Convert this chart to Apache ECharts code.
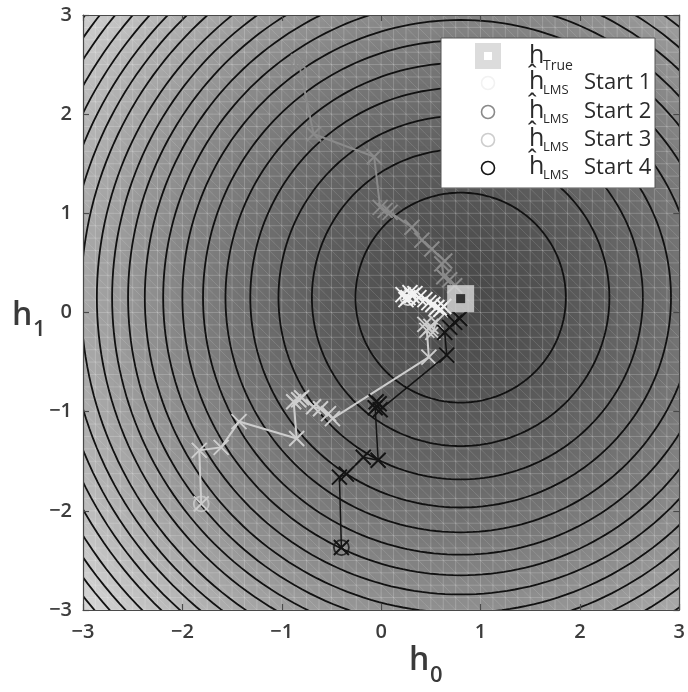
<!DOCTYPE html>
<html><head><meta charset="utf-8">
<script src="https://cdn.jsdelivr.net/npm/echarts@6/dist/echarts.min.js"></script>
<style>html,body{margin:0;padding:0;background:#fff}#c{width:688px;height:692px}</style>
</head><body><div id="c"></div>
<script>
// ---------- data ----------
const xTickLabels = ['\u22123', '\u22122', '\u22121', '0', '1', '2', '3'];
const yTickLabels = ['\u22123', '\u22122', '\u22121', '0', '1', '2', '3'];
const hTrue = [0.80, 0.14];
const surfaceCenter = [0.80, 0.15];
// squared radii of the drawn MSE contours
const contourR2 = [1.12, 2.24, 3.36, 4.48, 5.6, 6.72, 7.84, 8.96, 10.1, 11.2, 12.3, 13.4, 14.6, 15.7, 16.8, 17.9, 19.0, 20.2, 21.3, 22.4, 23.5, 24.6];
const start1 = [[0.27,0.15],[0.22,0.18],[0.31,0.17],[0.25,0.13],[0.34,0.19],[0.29,0.20],[0.38,0.15],[0.44,0.13],[0.48,0.10],[0.52,0.08],[0.56,0.05],[0.60,0.03],[0.63,0.06]];
const start2 = [[-0.83,2.53],[-0.68,1.80],[-0.07,1.57],[-0.01,1.06],[0.04,1.03],[0.09,1.01],[0.31,0.86],[0.41,0.73],[0.51,0.64],[0.64,0.52],[0.61,0.49],[0.63,0.36],[0.69,0.33],[0.74,0.27]];
const start3 = [[-1.81,-1.93],[-1.83,-1.39],[-1.61,-1.36],[-1.43,-1.10],[-0.85,-1.27],[-0.88,-0.90],[-0.83,-0.88],[-0.80,-0.86],[-0.68,-0.95],[-0.61,-0.97],[-0.53,-1.02],[-0.49,-1.07],[0.48,-0.45],[0.46,-0.18],[0.50,-0.14],[0.44,-0.12],[0.52,-0.20],[0.55,-0.10]];
const start4 = [[-0.40,-2.37],[-0.42,-1.66],[-0.35,-1.63],[-0.18,-1.46],[-0.03,-1.49],[-0.06,-0.96],[-0.02,-0.92],[-0.05,-0.90],[-0.01,-0.98],[0.66,-0.43],[0.64,-0.20],[0.69,-0.15],[0.74,-0.10],[0.79,-0.06]];
const seriesNames = ['Start 1', 'Start 2', 'Start 3', 'Start 4'];
const seriesColors = ['#f2f2f2', '#8a8a8a', '#cdcdcd', '#141414'];

// ---------- styling / rendering helpers ----------
const AX = [-3, 3];
const shadeStep = 0.0625, meshStep = 0.125;
const shadeLow = 74, shadeHigh = 216, r2Max = 24.4;
function shade(x, y) {
  const dx = x - surfaceCenter[0], dy = y - surfaceCenter[1];
  const r2 = dx * dx + dy * dy;
  let g = shadeLow + (shadeHigh - shadeLow) * Math.pow(Math.min(r2 / r2Max, 1.05), 0.78);
  g = Math.round(Math.min(225, g));
  return 'rgb(' + g + ',' + g + ',' + g + ')';
}
const cells = [];
const nShade = Math.round((AX[1] - AX[0]) / shadeStep);
for (let i = 0; i < nShade; i++) for (let j = 0; j < nShade; j++) cells.push([AX[0] + i * shadeStep, AX[0] + j * shadeStep]);
const meshLines = [];
const nMesh = Math.round((AX[1] - AX[0]) / meshStep);
for (let k = 0; k <= nMesh; k++) {
  const v = AX[0] + k * meshStep;
  meshLines.push([v, AX[0], v, AX[1], 0]);
  meshLines.push([AX[0], v, AX[1], v, 0]);
}
for (let k = 1; k < 2 * nMesh; k++) {
  const c = 2 * AX[0] + k * meshStep;
  const xa = Math.max(AX[0], c - AX[1]), xb = Math.min(AX[1], c - AX[0]);
  meshLines.push([xa, c - xa, xb, c - xb, 1]);
}
const FONT = 'Open Sans';
const xPath = 'path://M0,0L10,10M10,0L0,10';

const axisCommon = {
  type: 'value', min: -3, max: 3, interval: 1, z: 10,
  axisLine: { show: true, onZero: false, lineStyle: { color: '#4a4a4a', width: 1.2 } },
  axisTick: { show: true, inside: true, length: 6, lineStyle: { color: '#4a4a4a', width: 1.2 } },
  splitLine: { show: false }
};
function tickFmt(labels) { return v => labels[Math.round(v + 3)]; }

const series = [
  {
    type: 'custom', silent: true, z: 1, animation: false, progressive: 0,
    data: cells,
    encode: { x: 0, y: 1 },
    renderItem: (params, api) => {
      const x0 = api.value(0), y0 = api.value(1);
      const p = api.coord([x0, y0 + shadeStep]);
      const s = api.size([shadeStep, shadeStep]);
      return { type: 'rect', shape: { x: p[0], y: p[1], width: s[0] + 0.8, height: s[1] + 0.8 },
        style: { fill: shade(x0 + shadeStep / 2, y0 + shadeStep / 2) } };
    }
  },
  {
    type: 'custom', silent: true, z: 2, animation: false, progressive: 0,
    data: meshLines,
    encode: { x: 0, y: 1 },
    renderItem: (params, api) => {
      const a = api.coord([api.value(0), api.value(1)]);
      const b = api.coord([api.value(2), api.value(3)]);
      const diag = api.value(4) === 1;
      return { type: 'line', shape: { x1: a[0], y1: a[1], x2: b[0], y2: b[1] },
        style: { stroke: diag ? 'rgba(255,255,255,0.13)' : 'rgba(255,255,255,0.2)', lineWidth: 1 } };
    }
  },
  {
    type: 'custom', silent: true, z: 3, animation: false, clip: true,
    data: contourR2.map(v => [v]),
    renderItem: (params, api) => {
      const r = Math.sqrt(api.value(0));
      const pts = [];
      for (let a = 0; a <= 360; a += 1.5) {
        const t = a * Math.PI / 180;
        pts.push(api.coord([surfaceCenter[0] + r * Math.cos(t), surfaceCenter[1] + r * Math.sin(t)]));
      }
      return { type: 'polyline', shape: { points: pts }, style: { stroke: '#111', lineWidth: 1.8, fill: null } };
    }
  }
];
const trajectories = [start1, start2, start3, start4];
trajectories.forEach((d, i) => {
  series.push({
    name: seriesNames[i], type: 'line', z: 5 + i, animation: false,
    data: d, symbol: xPath, symbolSize: 15, showAllSymbol: true,
    lineStyle: { color: seriesColors[i], width: i === 3 ? 1.5 : 2 },
    itemStyle: { color: seriesColors[i], borderColor: seriesColors[i], borderWidth: 2 }
  });
  series.push({
    name: seriesNames[i] + ' start', type: 'scatter', z: 5 + i, animation: false,
    data: [d[0]], symbol: 'circle', symbolSize: 15,
    itemStyle: { color: 'rgba(0,0,0,0)', borderColor: seriesColors[i], borderWidth: 1.8 }
  });
});
series.push({ type: 'scatter', z: 20, animation: false, data: [hTrue], symbol: 'rect', symbolSize: 27, itemStyle: { color: '#d9d9d9' } });
series.push({ type: 'scatter', z: 21, animation: false, data: [hTrue], symbol: 'rect', symbolSize: 9, itemStyle: { color: '#111' } });

// legend drawn with graphic elements
const LX = 441, LY = 38, LW = 214, LH = 150;
const legendRows = [83, 112, 140, 168];
const graphic = [
  { type: 'rect', z: 100, shape: { x: LX, y: LY, width: LW, height: LH }, style: { fill: '#fff', stroke: '#555', lineWidth: 1 } },
  { type: 'rect', z: 101, shape: { x: 475, y: 43, width: 26, height: 26 }, style: { fill: '#dcdcdc' } },
  { type: 'rect', z: 102, shape: { x: 484, y: 52, width: 8, height: 8 }, style: { fill: '#fff' } },
  { type: 'text', z: 101, style: { x: 529, y: 56, text: 'h', font: '25px "' + FONT + '"', fill: '#2a2a2a', verticalAlign: 'middle' } },
  { type: 'text', z: 101, style: { x: 543, y: 66, text: 'True', font: '14px "' + FONT + '"', fill: '#2a2a2a', verticalAlign: 'middle' } }
];
legendRows.forEach((yy, i) => {
  graphic.push({ type: 'circle', z: 101, shape: { cx: 488, cy: yy, r: 6.5 }, style: { fill: 'none', stroke: seriesColors[i], lineWidth: 1.6 } });
  graphic.push({ type: 'text', z: 101, style: { x: 529, y: yy - 1, text: '\u0125', font: '25px "' + FONT + '"', fill: '#2a2a2a', verticalAlign: 'middle' } });
  graphic.push({ type: 'text', z: 101, style: { x: 543, y: yy + 7, text: 'LMS', font: '13px "' + FONT + '"', fill: '#2a2a2a', verticalAlign: 'middle' } });
  graphic.push({ type: 'text', z: 101, style: { x: 584, y: yy, text: seriesNames[i], font: '22px "' + FONT + '"', fill: '#2a2a2a', verticalAlign: 'middle' } });
});
// axis titles
graphic.push({ type: 'text', z: 101, style: { x: 409, y: 661, text: 'h', font: '600 32px "' + FONT + '"', fill: '#3a3a3a', verticalAlign: 'middle' } });
graphic.push({ type: 'text', z: 101, style: { x: 430, y: 676, text: '0', font: '600 22px "' + FONT + '"', fill: '#3a3a3a', verticalAlign: 'middle' } });
graphic.push({ type: 'text', z: 101, style: { x: 12, y: 316, text: 'h', font: '600 32px "' + FONT + '"', fill: '#3a3a3a', verticalAlign: 'middle' } });
graphic.push({ type: 'text', z: 101, style: { x: 33, y: 330, text: '1', font: '600 22px "' + FONT + '"', fill: '#3a3a3a', verticalAlign: 'middle' } });

const chart = echarts.init(document.getElementById('c'));
chart.setOption({
  animation: false,
  grid: { left: 83, right: 6, top: 15, bottom: 82 },
  xAxis: [
    Object.assign({}, axisCommon, { position: 'bottom', axisLabel: { formatter: tickFmt(xTickLabels), color: '#3c3c3c', fontSize: 20, fontFamily: FONT, fontWeight: 600, margin: 12 } }),
    Object.assign({}, axisCommon, { position: 'top', axisLabel: { show: false } })
  ],
  yAxis: [
    Object.assign({}, axisCommon, { position: 'left', axisLabel: { formatter: tickFmt(yTickLabels), color: '#3c3c3c', fontSize: 20, fontFamily: FONT, fontWeight: 600, margin: 11 } }),
    Object.assign({}, axisCommon, { position: 'right', axisLabel: { show: false } })
  ],
  series: series,
  graphic: graphic
});
</script></body></html>
